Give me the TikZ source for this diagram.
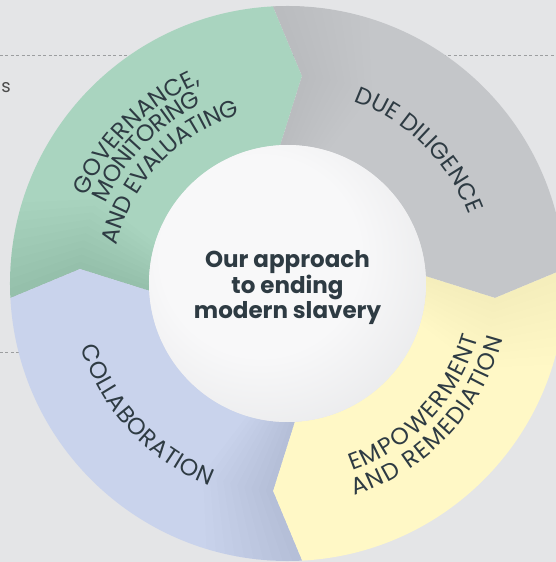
\documentclass[tikz,border=0pt]{standalone}
\usepackage{fontspec}
\setmainfont{Poppins}
\newfontfamily\labelfont{Poppins}
\usetikzlibrary{decorations.text}

\definecolor{ringgreen}{HTML}{A9D4BF}
\definecolor{ringgray}{HTML}{C4C6C9}
\definecolor{ringyellow}{HTML}{FFF8C6}
\definecolor{ringblue}{HTML}{C9D3EC}
\definecolor{inkdark}{HTML}{2E3B43}
\definecolor{bgbase}{HTML}{F9F9FA}
\definecolor{bgshade}{HTML}{E4E5E7}
\definecolor{hubedge}{HTML}{DADBDD}
\definecolor{hubcentre}{HTML}{F8F8F9}
\definecolor{dashgray}{HTML}{9C9EA0}

% soft halo behind the ring (outer radius 277.5 of 420)
\pgfdeclareradialshading{ringglow}{\pgfpoint{0bp}{0bp}}{color(0bp)=(bgshade); color(33bp)=(bgshade); color(50bp)=(bgbase); color(100bp)=(bgbase)}
% pale centre disc
\pgfdeclareradialshading{hubshade}{\pgfpoint{-6bp}{6bp}}{color(0bp)=(hubcentre); color(18bp)=(hubcentre); color(50bp)=(hubedge); color(100bp)=(hubedge)}

% ring geometry: outer 277.5, middle 208, inner 138.5, arrow offset 7 degrees
\newcommand\ringwedge[2]{(#1:277.5) arc[start angle=#1, end angle=#2, radius=277.5]
  -- ({#2-7}:208) -- (#2:138.5) arc[start angle=#2, end angle=#1, radius=138.5]
  -- ({#1-7}:208) -- cycle}
% shadow cast into a wedge by the arrow tip of its neighbour
\newcommand\ringshadow[2]{%
  \foreach \k in {1,...,10}{%
    \fill[black, opacity=#2] (#1:277.5) arc[start angle=#1, end angle={#1-2*\k}, radius=277.5]
      -- ({#1-7-2*\k}:208) -- ({#1-2*\k}:138.5) arc[start angle={#1-2*\k}, end angle=#1, radius=138.5]
      -- ({#1-7}:208) -- cycle;
  }%
}

\tikzset{
  ringlabel/.style={decorate, decoration={text effects along path, text={#1},
      text effects/.cd, text along path, fit text to path,
      characters={text=inkdark, font=\labelfont\fontsize{23.5}{23.5}\selectfont, anchor=base, inner sep=0pt}}},
  guide/.style={draw=dashgray, line width=0.9pt, dash pattern=on 3pt off 2.4pt},
}

\begin{document}
\begin{tikzpicture}[x=1pt, y=1pt]
  \useasboundingbox (-287.5,-278.5) rectangle (268.5,283.5);
  \clip (-287.5,-278.5) rectangle (268.5,283.5);

  % background and halo
  \fill[bgbase] (-287.5,-278.5) rectangle (268.5,283.5);
  \shade[shading=ringglow] (0,0) circle (420);

  % dotted guide lines behind the ring
  \coordinate (guideTL) at (-287.5,228.5);
  \coordinate (guideTR) at (268.5,228.5);
  \coordinate (guideBL) at (-287.5,-68.5);
  \coordinate (guideBR) at (-200,-68.5);
  \path[guide] (guideTL) -- (guideTR);
  \path[guide] (guideBL) -- (guideBR);
  \node[anchor=base east, inner sep=0pt, text=black!70, font=\fontsize{18}{18}\selectfont] (cutword) at (-276.5,190.5) {s};

  % the four wedges, clockwise
  \fill[ringgreen]  \ringwedge{183}{93};
  \fill[ringgray]   \ringwedge{93}{3};
  \fill[ringyellow] \ringwedge{3}{-87};
  \fill[ringblue]   \ringwedge{-87}{-177};
  \ringshadow{183}{0.006}
  \ringshadow{93}{0.005}
  \ringshadow{3}{0.005}
  \ringshadow{-87}{0.008}

  % centre disc
  \shade[shading=hubshade] (0,0) circle (138.5);
  \node[align=center, text=inkdark, font=\bfseries\fontsize{23}{25.5}\selectfont] (hub) at (0,-4.5)
    {Our approach\\to ending\\modern slavery};

  % wedge labels, each arc running from first to last letter
  \path[ringlabel={GOVERNANCE,}] (156.5:218.8) arc[start angle=156.5, end angle=113.5, radius=218.8];
  \path[ringlabel={MONITORING}] (156.2:198.8) arc[start angle=156.2, end angle=115.6, radius=198.8];
  \path[ringlabel={AND EVALUATING}] (167.3:174.8) arc[start angle=167.3, end angle=105.8, radius=174.8];
  \path[ringlabel={DUE DILIGENCE}] (70:193.8) arc[start angle=70, end angle=20.8, radius=193.8];
  \path[ringlabel={COLLABORATION}] (197.2:216.2) arc[start angle=197.2, end angle=249, radius=216.2];
  \path[ringlabel={EMPOWERMENT}] (-71:198.2) arc[start angle=-71, end angle=-15.7, radius=198.2];
  \path[ringlabel={AND REMEDIATION}] (-72.5:222.2) arc[start angle=-72.5, end angle=-14.3, radius=222.2];
\end{tikzpicture}
\end{document}
